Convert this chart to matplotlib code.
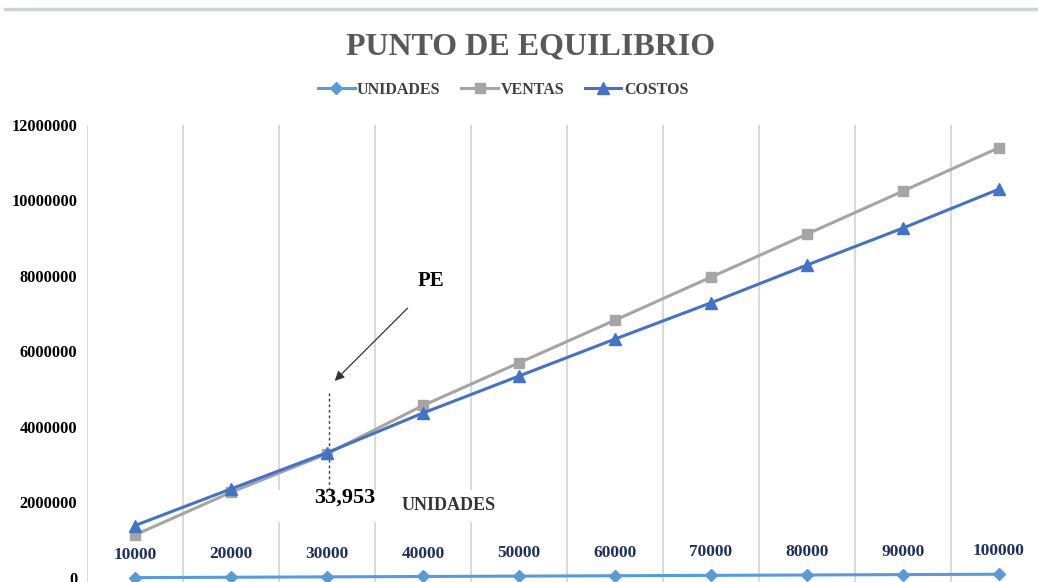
import numpy as np
import matplotlib.pyplot as plt
from matplotlib.patches import Rectangle

plt.rcParams['font.family'] = ['Liberation Serif', 'DejaVu Serif']
plt.rcParams['font.weight'] = 'bold'

# series
unidades = [10000, 20000, 30000, 40000, 50000, 60000, 70000, 80000, 90000, 100000]
ventas = [1140000, 2270000, 3290000, 4570000, 5700000, 6830000, 7970000, 9110000, 10250000, 11400000]
costos = [1390000, 2360000, 3320000, 4370000, 5350000, 6330000, 7290000, 8290000, 9270000, 10300000]
cat_labels = [str(u) for u in unidades]

pe_label = '33,953'
pe_pos = 2.02  # position of the break-even marker on the category axis

c_unid = '#5b9bd5'
c_vent = '#a5a5a5'
c_cost = '#4472c4'

W, H = 1038, 582
fig = plt.figure(figsize=(W / 100, H / 100), dpi=100)
fig.patch.set_facecolor('white')

# plot area runs off the right edge
ax = fig.add_axes([87 / W, 0, 960 / W, (H - 125) / H])
x = np.arange(len(unidades))
ax.set_xlim(-0.5, len(unidades) - 0.5)
ax.set_ylim(-106000, 12000000)

for v in np.arange(-0.5, len(unidades), 1.0):
    ax.axvline(v, color='#d9d9d9', lw=1.4, zorder=1)

# blank area behind the bottom annotations
ax.add_patch(Rectangle((1.42, 1480000), 2.4, 850000, facecolor='white',
                       edgecolor='none', zorder=2))

ax.plot(x, unidades, color=c_unid, lw=2.2, marker='D', ms=6, zorder=4,
        clip_on=False, label='UNIDADES')
ax.plot(x, ventas, color=c_vent, lw=2.2, marker='s', ms=7.5, zorder=4,
        label='VENTAS')
ax.plot(x, costos, color=c_cost, lw=2.2, marker='^', ms=8.5, zorder=5,
        label='COSTOS')

for xi, u, lab in zip(x, unidades, cat_labels):
    ax.annotate(lab, (xi, u), xytext=(0, 16.5), textcoords='offset points',
                ha='center', va='center', fontsize=12.5, fontweight='bold',
                color='#1f2f5f', zorder=6)

ax.set_yticks(np.arange(0, 12000001, 2000000))
ax.set_yticklabels([str(int(v)) for v in np.arange(0, 12000001, 2000000)],
                   fontsize=11.8, fontweight='bold', color='black')
ax.set_xticks([])
ax.tick_params(axis='y', length=0, pad=7)
for s in ax.spines.values():
    s.set_visible(False)

# break-even annotation
ax.plot([pe_pos, pe_pos], [2330000, 4900000], color='#404040', lw=1,
        ls=(0, (2, 2)), zorder=3)
ax.annotate('', xy=(pe_pos + 0.04, 5170000), xytext=(2.86, 7200000),
            arrowprops=dict(arrowstyle='-|>', color='#333333', lw=0.9,
                            mutation_scale=14), zorder=6)
ax.text(3.08, 7870000, 'PE', ha='center', va='center', fontsize=15,
        fontweight='bold', color='black', zorder=6)
ax.text(2.19, 2120000, pe_label, ha='center', va='center', fontsize=16,
        fontweight='bold', color='black', zorder=6)
ax.text(3.27, 1930000, 'UNIDADES', ha='center', va='center', fontsize=13,
        fontweight='bold', color='#333333', zorder=6)

fig.text(531 / W, 1 - 47 / H, 'PUNTO DE EQUILIBRIO', ha='center', va='center',
         fontsize=23, fontweight='bold', color='#595959')

fig.legend(loc='center', bbox_to_anchor=(503 / W, 1 - 90 / H), ncol=3,
           frameon=False, handlelength=2.3, handletextpad=0.15,
           columnspacing=1.3, labelcolor='#404040',
           prop={'weight': 'bold', 'size': 11.5})

# thin band across the top
fig.add_artist(plt.Line2D([5 / W, 1], [1 - 9 / H, 1 - 9 / H], color='#c9d3e0',
                          lw=2.5, transform=fig.transFigure))

fig.savefig('out.png', dpi=100, facecolor='white')
